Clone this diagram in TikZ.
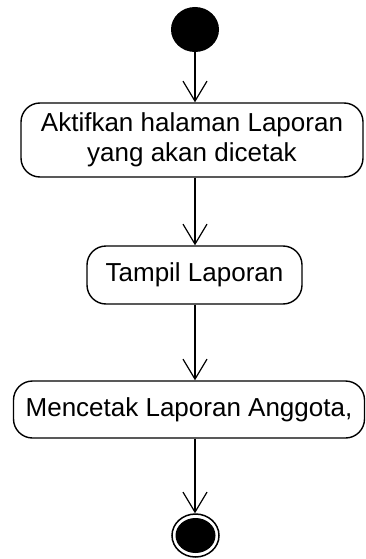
\documentclass[tikz,border=0pt]{standalone}
\usepackage{fontspec}
\setmainfont{Liberation Sans}
\usetikzlibrary{arrows.meta,shapes.geometric}
\begin{document}
\begin{tikzpicture}[x=1pt,y=-1pt,
  activity/.style={draw,line width=1.4pt,rounded corners=19pt,inner sep=0pt,
    align=center,font=\fontsize{26}{30}\selectfont},
  flow/.style={line width=1.2pt,-{Straight Barb[length=20pt,width=24pt,line width=1.2pt]}}]
  \useasboundingbox (0,0) rectangle (366,559);
  % initial state
  \node[ellipse,fill=black,minimum width=48pt,minimum height=45pt,inner sep=0pt] (start) at (195,29.5) {};
  % activities
  \node[activity,minimum width=342pt,minimum height=74pt] (a1) at (192,140)
    {Aktifkan halaman Laporan\\yang akan dicetak};
  \node[activity,minimum width=215pt,minimum height=58pt] (a2) at (194.5,275) {Tampil Laporan};
  \node[activity,minimum width=351pt,minimum height=57pt] (a3) at (189,409.5) {Mencetak Laporan Anggota,};
  % final state
  \node[ellipse,draw,line width=1.5pt,minimum width=47pt,minimum height=43pt,inner sep=0pt] (end) at (195.5,535.5) {};
  \fill (end.center) ellipse[x radius=20pt,y radius=17.5pt];
  % transitions
  \draw[flow] (start.south) -- (start.south |- a1.north);
  \draw[flow] (a1.south -| start.south) -- (start.south |- a2.north);
  \draw[flow] (a2.south -| start.south) -- (start.south |- a3.north);
  \draw[flow] (a3.south -| start.south) -- (start.south |- end.north);
\end{tikzpicture}
\end{document}
